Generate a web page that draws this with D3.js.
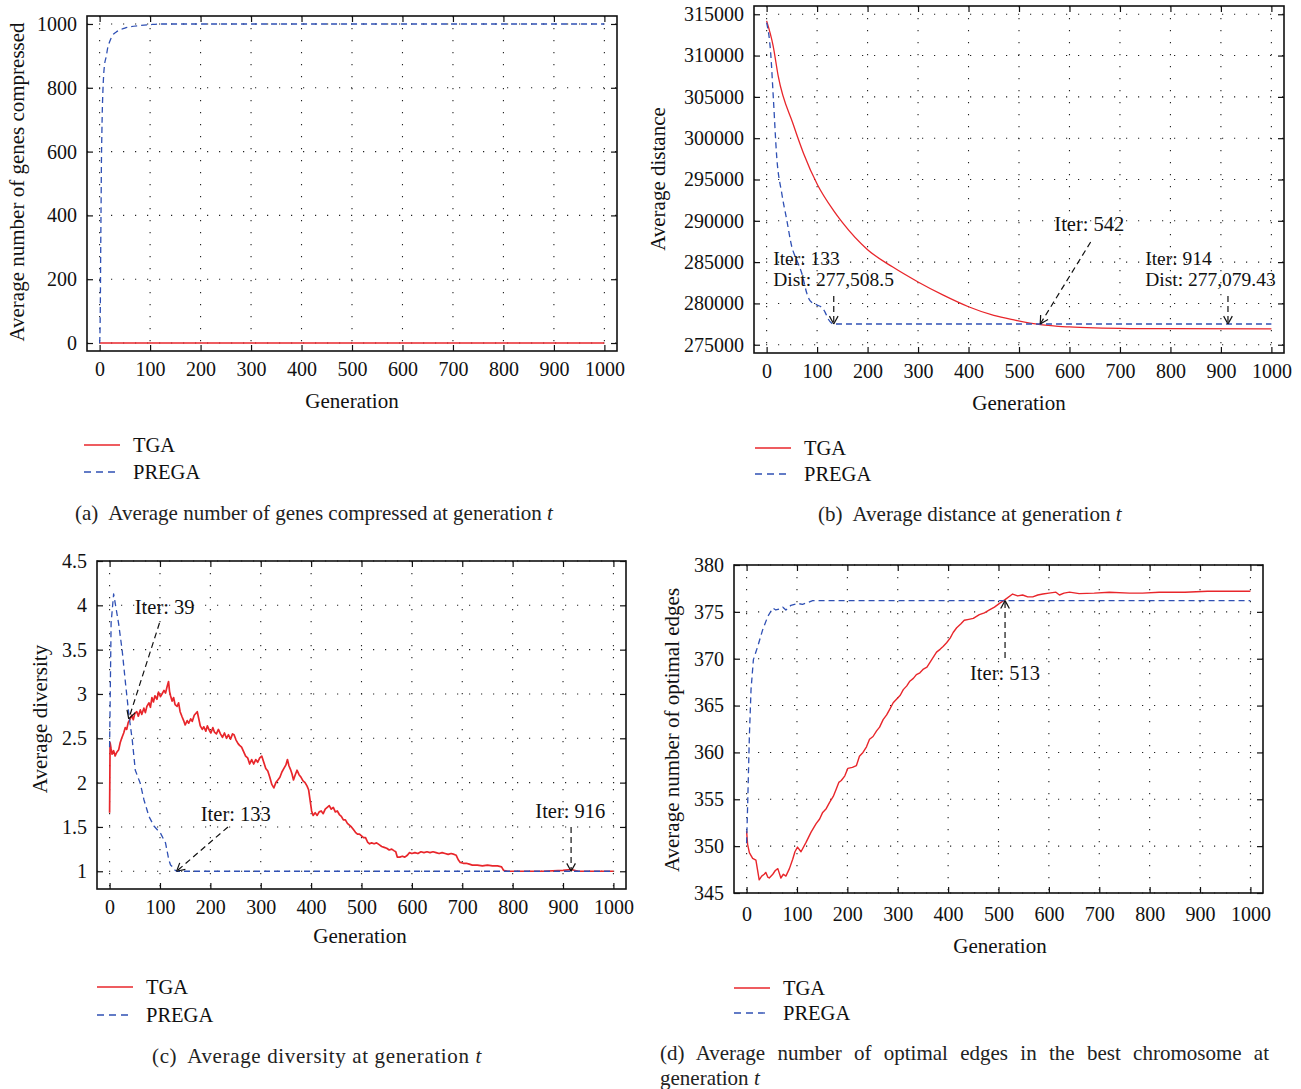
<!DOCTYPE html>
<html>
<head>
<meta charset="utf-8">
<script src="https://cdn.jsdelivr.net/npm/d3@7"></script>
<style>
  body { margin: 0; background: #fff; }
  svg { display: block; font-family: "Liberation Serif", "DejaVu Serif", serif; }
</style>
</head>
<body>
<div id="chart"></div>
<script>
const svgWidth = 1301;
const svgHeight = 1089;

const red = "#e8262b";
const blue = "#2f50b4";

// shared x ticks (generation)
const genTicks = [0, 100, 200, 300, 400, 500, 600, 700, 800, 900, 1000];

// (a) average number of genes compressed
const aTicks = [0, 200, 400, 600, 800, 1000];
const aTga = [[0, 0], [1000, 0]];
const aPrega = [[0, 0], [1, 60], [1.5, 135], [2, 260], [3, 450], [3.5, 553], [4.5, 660], [5.5, 740], [6.6, 793],
  [8, 840], [10, 875], [13, 897], [16, 925], [20, 945], [26, 965], [33, 975], [40, 981], [50, 987], [60, 991],
  [80, 995], [100, 998], [120, 1000], [1000, 1000]];

// (b) average distance
const bTicks = [275000, 280000, 285000, 290000, 295000, 300000, 305000, 310000, 315000];
const bTga = [[0, 314200], [13, 311150], [23, 307500], [53, 301620], [73, 298180], [101, 294330],
  [132, 291290], [150, 289800], [200, 286500], [250, 284400], [300, 282600], [350, 281000], [400, 279600],
  [450, 278550], [490, 278000], [542, 277430], [600, 277150], [650, 277030], [720, 276960], [800, 276940],
  [1000, 276930]];
const bPrega = [[0, 314000], [8, 310340], [13.5, 304660], [20, 297770], [30, 293320], [40, 290070],
  [50, 286830], [60, 285210], [70, 283590], [80, 281160], [86, 280340], [100, 279800], [109, 279530],
  [116, 278920], [122, 278110], [133, 277508.5], [1000, 277508.5]];

// (c) average diversity
const cTicks = [1, 1.5, 2, 2.5, 3, 3.5, 4, 4.5];
const cTickLabels = ["1", "1.5", "2", "2.5", "3", "3.5", "4", "4.5"];
const cTga = [[0, 1.66], [1, 2.45], [3, 2.38], [5, 2.32], [8, 2.36], [11, 2.30], [14, 2.34], [18, 2.37],
  [21, 2.45], [24, 2.50], [28, 2.56], [31, 2.62], [34, 2.60], [37, 2.68], [41, 2.72], [44, 2.76], [47, 2.71],
  [50, 2.78], [54, 2.80], [57, 2.75], [61, 2.82], [64, 2.77], [68, 2.84], [71, 2.79], [74, 2.86], [78, 2.90],
  [81, 2.85], [84, 2.96], [87, 2.91], [90, 2.98], [94, 2.94], [97, 3.02], [101, 2.97], [104, 3.00], [108, 3.04],
  [111, 3.01], [114, 3.08], [117, 3.14], [119, 3.03], [121, 2.98], [124, 2.92], [127, 2.96], [130, 2.88],
  [134, 2.86], [137, 2.90], [140, 2.80], [144, 2.74], [147, 2.70], [150, 2.65], [154, 2.70], [157, 2.67],
  [161, 2.72], [164, 2.69], [168, 2.76], [171, 2.78], [174, 2.80], [177, 2.72], [180, 2.64], [184, 2.60],
  [187, 2.63], [191, 2.58], [194, 2.64], [198, 2.59], [201, 2.56], [205, 2.62], [208, 2.57], [212, 2.55],
  [216, 2.60], [220, 2.55], [224, 2.51], [228, 2.56], [232, 2.50], [236, 2.54], [240, 2.49], [244, 2.55],
  [247, 2.54], [251, 2.48], [255, 2.44], [258, 2.42], [262, 2.40], [266, 2.35], [270, 2.30], [274, 2.28],
  [278, 2.21], [282, 2.26], [286, 2.21], [290, 2.26], [294, 2.23], [298, 2.28], [302, 2.30], [306, 2.23],
  [310, 2.16], [314, 2.13], [318, 2.06], [322, 1.98], [326, 1.94], [330, 2.00], [334, 2.03], [338, 2.06],
  [342, 2.12], [346, 2.16], [350, 2.20], [353, 2.26], [356, 2.19], [359, 2.15], [362, 2.10], [365, 2.03],
  [368, 2.08], [372, 2.14], [376, 2.09], [380, 2.06], [384, 2.02], [388, 2.00], [392, 1.96], [395, 1.92],
  [398, 1.80], [401, 1.68], [404, 1.63], [408, 1.66], [412, 1.63], [416, 1.67], [420, 1.68], [424, 1.65],
  [428, 1.70], [432, 1.72], [436, 1.74], [440, 1.70], [444, 1.72], [448, 1.67], [452, 1.68], [456, 1.64],
  [460, 1.62], [464, 1.58], [468, 1.58], [472, 1.54], [476, 1.52], [480, 1.50], [484, 1.47], [488, 1.44],
  [492, 1.42], [496, 1.42], [500, 1.40], [504, 1.38], [508, 1.38], [512, 1.33], [516, 1.31], [520, 1.32],
  [525, 1.31], [530, 1.32], [535, 1.30], [540, 1.28], [545, 1.27], [550, 1.26], [555, 1.24], [560, 1.25],
  [565, 1.23], [568, 1.22], [571, 1.16], [576, 1.16], [581, 1.17], [586, 1.16], [591, 1.18], [595, 1.21],
  [600, 1.20], [606, 1.21], [612, 1.20], [618, 1.22], [624, 1.21], [630, 1.22], [636, 1.21], [642, 1.22],
  [648, 1.21], [654, 1.20], [660, 1.21], [666, 1.20], [672, 1.19], [678, 1.20], [684, 1.19], [688, 1.18],
  [692, 1.13], [696, 1.10], [702, 1.09], [708, 1.09], [714, 1.08], [720, 1.07], [730, 1.07], [740, 1.06],
  [750, 1.07], [760, 1.06], [770, 1.06], [778, 1.05], [782, 1.01], [790, 1.00], [820, 1.00], [860, 1.00],
  [900, 1.01], [916, 1.02], [930, 1.00], [1000, 1.00]];
const cPrega = [[0, 2.40], [3, 3.80], [8, 4.13], [18, 3.79], [25, 3.49], [31.6, 3.12], [38, 2.78],
  [45, 2.48], [51, 2.14], [61, 1.99], [68, 1.81], [78, 1.62], [88, 1.51], [101, 1.43], [111, 1.32],
  [117.5, 1.13], [121, 1.07], [125, 1.05], [128, 1.02], [133, 1.00], [1000, 1.00]];

// (d) average number of optimal edges
const dTicks = [345, 350, 355, 360, 365, 370, 375, 380];
const dTga = [[0, 351.6], [2, 350.2], [5.5, 349.3], [12, 348.7], [18.5, 348.5], [25, 346.4], [30, 346.8],
  [35, 347.0], [38, 347.2], [42, 346.7], [45, 346.6], [52, 347.0], [57, 347.4], [62, 347.6], [68, 346.6],
  [73, 347.0], [78, 346.8], [85, 347.6], [91.5, 348.6], [96, 349.4], [101, 349.9], [108, 349.4],
  [118, 350.4], [128, 351.5], [138, 352.4], [145, 352.9], [151, 353.6], [158, 354.0], [165, 354.7],
  [172, 355.3], [178, 356.1], [183, 356.8], [188, 357.0], [195, 357.5], [201, 358.3], [210, 358.4],
  [218, 358.6], [224, 359.6], [231, 360.0], [238, 360.6], [244, 361.4], [251, 361.7], [258, 362.3],
  [264, 362.7], [271, 363.5], [278, 364.0], [284, 364.6], [291, 365.3], [298, 365.7], [305, 366.1],
  [311, 366.7], [318, 367.1], [324, 367.6], [331, 367.9], [337, 368.3], [344, 368.5], [351, 368.9],
  [358, 369.1], [364, 369.6], [371, 370.2], [377, 370.7], [384, 371.0], [390, 371.3], [397, 371.7],
  [404, 372.2], [410, 372.8], [417, 373.3], [425, 373.7], [432, 374.1], [441, 374.2], [450, 374.3],
  [462, 374.7], [472, 374.9], [482, 375.2], [492, 375.5], [502, 375.9], [513, 376.3], [528, 376.9],
  [538, 376.7], [548, 376.8], [558, 376.6], [568, 376.6], [578, 376.8], [588, 376.9], [600, 377.0],
  [614, 377.1], [621, 376.8], [630, 377.0], [641, 377.1], [660, 376.95], [690, 377.0], [720, 377.1],
  [760, 377.0], [786, 377.0], [819, 377.1], [870, 377.1], [915, 377.2], [1000, 377.2]];
const dPrega = [[0, 350.3], [2.2, 354.6], [5.5, 361.7], [8.8, 366.7], [13.5, 369.9], [22, 371.3],
  [32, 373.1], [42, 374.5], [52, 375.4], [58, 375.2], [65, 375.3], [72, 375.5], [78, 375.2], [88, 375.7],
  [101, 375.9], [111, 375.8], [122, 376.0], [131, 376.2], [1000, 376.2]];

const seriesNames = ["TGA", "PREGA"];

const panels = [
  {
    frame: { left: 87, top: 16, right: 617, bottom: 351 },
    yDomain: [-25, 1025], yTicks: aTicks, yLabels: aTicks.map(String),
    series: [aTga, aPrega], smooth: true, redWidth: 1.3,
    xPad: 11,
    yTitle: { text: "Average number of genes compressed", x: 17, y: 182 },
    xTitle: { x: 352, y: 401 },
    legend: { x: 84, y: 445, dy: 27 },
    caption: { x: 75, y: 513, tag: "(a)", text: "Average number of genes compressed at generation " },
    notes: []
  },
  {
    frame: { left: 754, top: 6, right: 1284, bottom: 353 },
    yDomain: [274000, 316000], yTicks: bTicks, yLabels: bTicks.map(String),
    series: [bTga, bPrega], smooth: true, redWidth: 1.3,
    xPad: 11,
    yTitle: { text: "Average distance", x: 658, y: 179 },
    xTitle: { x: 1019, y: 403 },
    legend: { x: 755, y: 448, dy: 26 },
    caption: { x: 818, y: 514, tag: "(b)", text: "Average distance at generation " },
    notes: [
      { lines: ["Iter: 133", "Dist: 277,508.5"], at: [13, 285400], tail: [133, 280900], tip: [133, 277508.5] },
      { lines: ["Iter: 542"], at: [570, 289614], tail: [642, 287436], tip: [542, 277508.5] },
      { lines: ["Iter: 914", "Dist: 277,079.43"], at: [750, 285400], tail: [914, 280900], tip: [914, 277508.5] }
    ]
  },
  {
    frame: { left: 97, top: 561, right: 626, bottom: 889 },
    yDomain: [0.8, 4.5], yTicks: cTicks, yLabels: cTickLabels,
    series: [cTga, cPrega], smooth: false, redWidth: 1.7,
    xPad: 11,
    yTitle: { text: "Average diversity", x: 40, y: 719 },
    xTitle: { x: 360, y: 936 },
    legend: { x: 97, y: 987, dy: 28 },
    caption: { x: 152, y: 1056, tag: "(c)", text: "Average diversity at generation ", width: 330 },
    notes: [
      { lines: ["Iter: 39"], at: [50, 3.98], tail: [99, 3.80], tip: [38, 2.72] },
      { lines: ["Iter: 133"], at: [181, 1.646], tail: [235, 1.50], tip: [133, 1.0] },
      { lines: ["Iter: 916"], at: [845, 1.68], tail: [916, 1.50], tip: [916, 1.0] }
    ]
  },
  {
    frame: { left: 734, top: 565, right: 1263, bottom: 893 },
    yDomain: [345, 380], yTicks: dTicks, yLabels: dTicks.map(String),
    series: [dTga, dPrega], smooth: false, redWidth: 1.4,
    xPad: 14,
    yTitle: { text: "Average number of optimal edges", x: 672, y: 730 },
    xTitle: { x: 1000, y: 946 },
    legend: { x: 734, y: 988, dy: 25 },
    caption: null,
    notes: [
      { lines: ["Iter: 513"], at: [513, 368.47], anchor: "middle", tail: [513, 370.08], tip: [513, 376.2] }
    ]
  }
];

const seriesStyle = [
  { color: red, dash: null, width: 1.3 },
  { color: blue, dash: "6,4", width: 1.3 }
];

const tickFont = 20;
const titleFont = 21;
const textFont = 20.5;
const noteFont = 19.5;
const noteLineGap = 21;
const captionFont = 21;

const svg = d3.select("#chart")
  .append("svg")
  .attr("width", svgWidth)
  .attr("height", svgHeight)
  .attr("viewBox", `0 0 ${svgWidth} ${svgHeight}`);

panels.forEach(drawPanel);
drawCaptionD();

function styleAxis(g) {
  g.attr("font-family", null).attr("font-size", tickFont);
  g.select(".domain").remove();
  g.selectAll("line").attr("stroke", "#111").attr("stroke-width", 1.2);
  g.selectAll("text").attr("fill", "#111");
}

function drawPanel(p) {
  const f = p.frame;
  const x = d3.scaleLinear().domain([-25, 1025]).range([f.left, f.right]);
  const y = d3.scaleLinear().domain(p.yDomain).range([f.bottom, f.top]);
  const g = svg.append("g");

  // dotted grid
  g.append("g").selectAll("line").data(genTicks).join("line")
    .attr("x1", (d) => x(d)).attr("x2", (d) => x(d))
    .attr("y1", f.top).attr("y2", f.bottom)
    .attr("stroke", "#222").attr("stroke-width", 1.1)
    .attr("stroke-dasharray", "1.2,10.8");
  g.append("g").selectAll("line").data(p.yTicks).join("line")
    .attr("x1", f.left).attr("x2", f.right)
    .attr("y1", (d) => y(d)).attr("y2", (d) => y(d))
    .attr("stroke", "#222").attr("stroke-width", 1.1)
    .attr("stroke-dasharray", "1.2,10.8");

  // series
  const line = d3.line()
    .x((d) => x(d[0])).y((d) => y(d[1]))
    .curve(p.smooth ? d3.curveMonotoneX : d3.curveLinear);
  p.series.forEach((data, i) => {
    const s = seriesStyle[i];
    g.append("path")
      .datum(data)
      .attr("d", line)
      .attr("fill", "none")
      .attr("stroke", s.color)
      .attr("stroke-width", i === 0 ? p.redWidth : s.width)
      .attr("stroke-dasharray", s.dash)
      .attr("stroke-linejoin", "round");
  });

  // axes with inward ticks on all four sides
  g.append("g").attr("transform", `translate(0,${f.bottom})`)
    .call(d3.axisBottom(x).tickValues(genTicks).tickSize(-6).tickPadding(p.xPad).tickFormat(d3.format("d")))
    .call(styleAxis);
  g.append("g").attr("transform", `translate(0,${f.top})`)
    .call(d3.axisTop(x).tickValues(genTicks).tickSize(-6).tickFormat(""))
    .call(styleAxis);
  g.append("g").attr("transform", `translate(${f.left},0)`)
    .call(d3.axisLeft(y).tickValues(p.yTicks).tickSize(-6).tickPadding(10).tickFormat((d, i) => p.yLabels[i]))
    .call(styleAxis);
  g.append("g").attr("transform", `translate(${f.right},0)`)
    .call(d3.axisRight(y).tickValues(p.yTicks).tickSize(-6).tickFormat(""))
    .call(styleAxis);

  g.append("rect")
    .attr("x", f.left).attr("y", f.top)
    .attr("width", f.right - f.left).attr("height", f.bottom - f.top)
    .attr("fill", "none").attr("stroke", "#111").attr("stroke-width", 1.6);

  // annotations
  p.notes.forEach((n) => {
    n.lines.forEach((ln, i) => {
      g.append("text")
        .attr("x", x(n.at[0])).attr("y", y(n.at[1]) + i * noteLineGap)
        .attr("font-size", n.lines.length > 1 ? noteFont : textFont).attr("fill", "#111")
        .attr("text-anchor", n.anchor || "start")
        .attr("dominant-baseline", "central")
        .text(ln);
    });
    const x1 = x(n.tail[0]), y1 = y(n.tail[1]), x2 = x(n.tip[0]), y2 = y(n.tip[1]);
    g.append("line")
      .attr("x1", x1).attr("y1", y1).attr("x2", x2).attr("y2", y2)
      .attr("stroke", "#111").attr("stroke-width", 1.2).attr("stroke-dasharray", "6,4");
    const ang = Math.atan2(y1 - y2, x1 - x2);
    [-0.5, 0.5].forEach((da) => {
      g.append("line")
        .attr("x1", x2).attr("y1", y2)
        .attr("x2", x2 + 9 * Math.cos(ang + da)).attr("y2", y2 + 9 * Math.sin(ang + da))
        .attr("stroke", "#111").attr("stroke-width", 1.2);
    });
  });

  // axis titles
  g.append("text")
    .attr("transform", `translate(${p.yTitle.x},${p.yTitle.y}) rotate(-90)`)
    .attr("text-anchor", "middle").attr("dominant-baseline", "central")
    .attr("font-size", titleFont).attr("fill", "#111")
    .text(p.yTitle.text);
  g.append("text")
    .attr("x", p.xTitle.x).attr("y", p.xTitle.y)
    .attr("text-anchor", "middle").attr("dominant-baseline", "central")
    .attr("font-size", titleFont).attr("fill", "#111")
    .text("Generation");

  // legend
  seriesNames.forEach((name, i) => {
    const s = seriesStyle[i];
    const ly = p.legend.y + i * p.legend.dy;
    g.append("line")
      .attr("x1", p.legend.x).attr("x2", p.legend.x + 36)
      .attr("y1", ly).attr("y2", ly)
      .attr("stroke", s.color).attr("stroke-width", 1.3)
      .attr("stroke-dasharray", s.dash ? "7,5" : null);
    g.append("text")
      .attr("x", p.legend.x + 49).attr("y", ly)
      .attr("dominant-baseline", "central")
      .attr("font-size", textFont).attr("fill", "#111")
      .text(name);
  });

  // caption
  if (p.caption) {
    const c = g.append("text")
      .attr("x", p.caption.x).attr("y", p.caption.y)
      .attr("dominant-baseline", "central")
      .attr("font-size", captionFont).attr("fill", "#222");
    c.append("tspan").text(p.caption.tag);
    c.append("tspan").attr("dx", 10).text(p.caption.text);
    c.append("tspan").attr("font-style", "italic").text("t");
    if (p.caption.width) {
      const natural = c.node().getComputedTextLength() + 10;
      const chars = (p.caption.tag + p.caption.text + "t").length;
      c.attr("letter-spacing", (p.caption.width - natural) / chars);
    }
  }
}

function drawCaptionD() {
  const left = 660, right = 1269;
  const t = svg.append("text")
    .attr("x", left).attr("y", 1053)
    .attr("dominant-baseline", "central")
    .attr("font-size", captionFont).attr("fill", "#222")
    .text("(d) Average number of optimal edges in the best chromosome at");
  const natural = t.node().getComputedTextLength();
  const spaces = t.text().split(" ").length - 1;
  t.attr("word-spacing", Math.max(0, (right - left - natural) / spaces));

  const t2 = svg.append("text")
    .attr("x", left).attr("y", 1078)
    .attr("dominant-baseline", "central")
    .attr("font-size", captionFont).attr("fill", "#222");
  t2.append("tspan").text("generation ");
  t2.append("tspan").attr("font-style", "italic").text("t");
}
</script>
</body>
</html>
